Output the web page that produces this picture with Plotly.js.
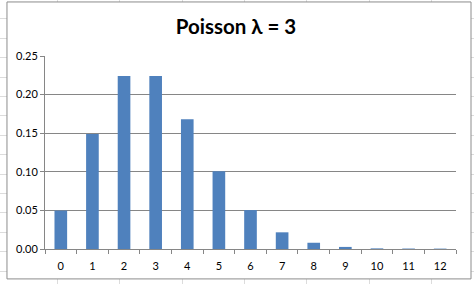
<!DOCTYPE html>
<html>
<head>
<meta charset="utf-8">
<script src="https://cdn.plot.ly/plotly-3.0.1.min.js"></script>
<style>
html,body{margin:0;padding:0;}
body{
  width:474px;height:284px;overflow:hidden;
  background-color:#fff;
  background-image:
    repeating-linear-gradient(to bottom, transparent 0px, transparent 18.4px, #dcdcdc 18.4px, #dcdcdc 19.4px),
    repeating-linear-gradient(to right, transparent 0px, transparent 57px, #dcdcdc 57px, #dcdcdc 58px, transparent 58px, transparent 62.3px);
}
#chart{width:474px;height:284px;}
</style>
</head>
<body>
<div id="chart"></div>
<script>
var categories = ['0','1','2','3','4','5','6','7','8','9','10','11','12'];
var probabilities = [0.0498, 0.149, 0.224, 0.224, 0.168, 0.1008, 0.0504, 0.0216, 0.0081, 0.0027, 0.0008, 0.0006, 0.0005];
var yTicks = [0, 0.05, 0.10, 0.15, 0.20, 0.25];

var trace = {
  type: 'bar',
  x: categories,
  y: probabilities,
  marker: {color: '#4F81BD', line: {width: 0}},
  hoverinfo: 'x+y'
};

var layout = {
  width: 474,
  height: 284,
  margin: {l: 45, r: 18, t: 56, b: 35, pad: 0},
  paper_bgcolor: 'rgba(0,0,0,0)',
  plot_bgcolor: '#ffffff',
  bargap: 0.6,
  showlegend: false,
  font: {family: 'Lato, "DejaVu Sans", sans-serif', size: 11, color: '#000'},
  title: {
    text: '<b>Poisson λ = 3</b>',
    font: {family: 'Lato, "Liberation Sans", sans-serif', size: 20.5, color: '#000'},
    x: 236 / 474, xanchor: 'center', xref: 'container',
    y: 1, yanchor: 'top', yref: 'container', pad: {t: 20}
  },
  xaxis: {
    type: 'category',
    showgrid: false,
    showline: true,
    linecolor: '#868686',
    linewidth: 1,
    ticks: 'outside',
    tickson: 'boundaries',
    ticklen: 4,
    tickcolor: '#868686',
    ticklabelstandoff: 7,
    tickfont: {family: 'Lato, sans-serif', size: 11, color: '#000'},
    fixedrange: true
  },
  yaxis: {
    range: [0, 0.25],
    tickvals: yTicks,
    tickformat: '.2f',
    showgrid: true,
    gridcolor: '#868686',
    gridwidth: 1,
    showline: true,
    linecolor: '#868686',
    linewidth: 1,
    ticks: 'outside',
    ticklen: 4,
    tickcolor: '#868686',
    zeroline: false,
    tickfont: {family: 'Lato, sans-serif', size: 11, color: '#000'},
    fixedrange: true
  },
  shapes: [
    {
      type: 'rect', xref: 'paper', yref: 'paper', layer: 'below',
      x0: -0.0925, x1: 1.0365, y0: -0.155, y1: 1.28,
      fillcolor: '#ffffff',
      line: {color: '#8c8c8c', width: 1}
    }
  ]
};

Plotly.newPlot('chart', [trace], layout, {displayModeBar: false, staticPlot: true});
</script>
</body>
</html>
